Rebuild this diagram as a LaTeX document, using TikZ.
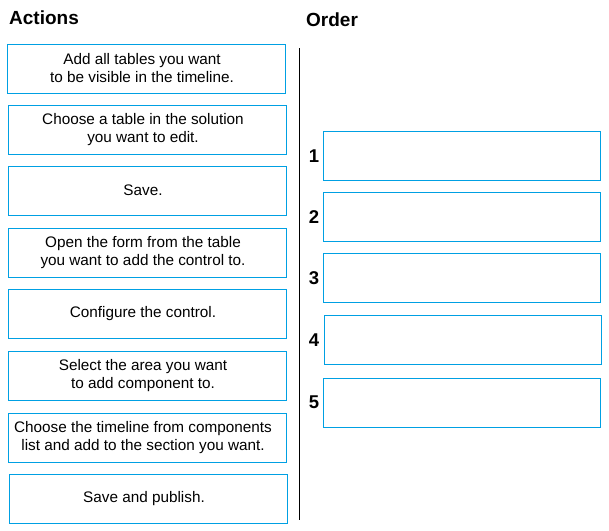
\documentclass[tikz,border=0pt]{standalone}
\usepackage{fontspec}
\setmainfont{Liberation Sans}
\definecolor{boxblue}{RGB}{0,160,227}
\tikzset{
  actbox/.style={draw=boxblue, line width=1pt, minimum width=278pt, minimum height=49pt, inner sep=0pt},
  acttext/.style={align=center, font=\fontsize{15.3}{18}\selectfont, inner sep=0pt, xshift=-4pt},
  ordbox/.style={draw=boxblue, line width=1pt, minimum width=277pt, minimum height=49pt, inner sep=0pt},
  title/.style={font=\fontsize{19}{22}\selectfont\bfseries, anchor=base west, inner sep=0pt},
  num/.style={font=\fontsize{18.5}{22}\selectfont\bfseries, inner sep=0pt}
}
\begin{document}
\begin{tikzpicture}[x=1pt,y=-1pt]
\useasboundingbox (0,0) rectangle (609,530);
\node[title] (tact) at (9,24) {Actions};
\node[title] (tord) at (306,26) {Order};
\node[actbox] (a1) at (146,68.5) {};
\node[actbox] (a2) at (147,129.5) {};
\node[actbox] (a3) at (147,190.5) {};
\node[actbox] (a4) at (147,252.5) {};
\node[actbox] (a5) at (147,313.5) {};
\node[actbox] (a6) at (147,375.5) {};
\node[actbox] (a7) at (147,437.5) {};
\node[actbox] (a8) at (148,498.5) {};
\node[acttext] (t1) at (a1.center) {Add all tables you want\\to be visible in the timeline.};
\node[acttext] (t2) at (a2.center) {Choose a table in the solution\\you want to edit.};
\node[acttext] (t3) at (a3.center) {Save.};
\node[acttext] (t4) at (a4.center) {Open the form from the table\\you want to add the control to.};
\node[acttext] (t5) at (a5.center) {Configure the control.};
\node[acttext] (t6) at (a6.center) {Select the area you want\\to add component to.};
\node[acttext] (t7) at (a7.center) {Choose the timeline from components\\list and add to the section you want.};
\node[acttext] (t8) at (a8.center) {Save and publish.};
\coordinate (lt) at (299.5,48);
\coordinate (lb) at (299.5,520);
\draw[line width=1pt] (lt) -- (lb);
\node[ordbox] (o1) at (461.5,155.5) {};
\node[ordbox] (o2) at (461.5,216.5) {};
\node[ordbox] (o3) at (461.5,277.5) {};
\node[ordbox] (o4) at (462.5,339.5) {};
\node[ordbox] (o5) at (461.5,402.5) {};
\node[num] (n1) at (314,156) {1};
\node[num] (n2) at (314,217) {2};
\node[num] (n3) at (314,278) {3};
\node[num] (n4) at (314,340) {4};
\node[num] (n5) at (314,402) {5};
\end{tikzpicture}
\end{document}
